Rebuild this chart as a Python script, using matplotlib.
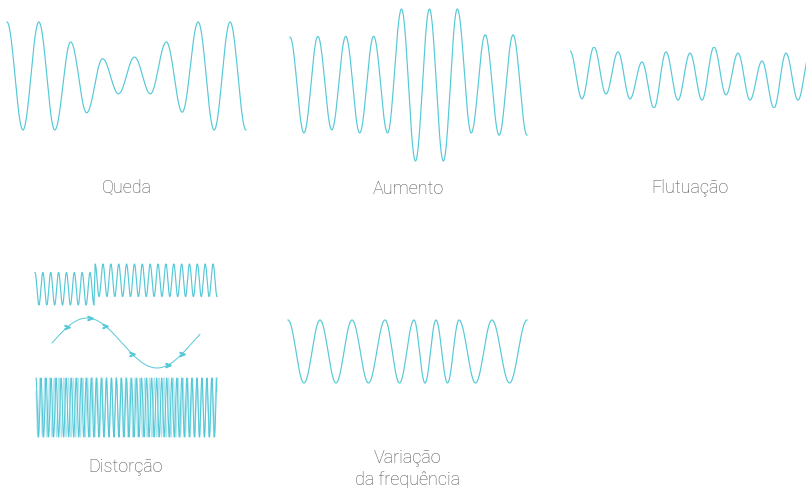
import numpy as np
import matplotlib.pyplot as plt

# extremos de cada meia-onda (1 = pico mais alto, -1 = vale mais baixo)
queda = [1.0, -1.0, 1.0, -1.0, 0.63, -0.68, 0.32, -0.33, 0.35, -0.33, 0.63, -0.67, 1.0, -1.0, 1.0, -1.0]
aumento = [0.63, -0.63, 0.64, -0.59, 0.64, -0.63, 0.64, -0.63, 1.0, -1.0, 1.0, -1.0, 1.0, -0.63, 0.66, -0.66, 0.66, -0.66]
flutuacao = [0.87, -0.70, 1.0, -0.54, 0.84, -0.70, 0.51, -1.0, 0.84, -0.74, 0.80, -0.74, 1.0, -0.57, 0.80, -0.74, 0.54, -1.0, 0.80, -0.74, 0.80]

# variação da frequência: comprimento de cada ciclo
var_periodos = [32, 32, 33, 29, 22, 23, 33, 35]

# distorção
dist_niveis = [-0.26, 0.26]      # deslocamento da onda de cima, antes e depois do salto
dist_ciclos = [7.5, 15.5]
seno_ciclos = 1.057
seno_marcas = [0.11, 0.27, 0.38, 0.57, 0.83, 0.93]
ruido_ciclos = [36, 38]

rotulos = ["Queda", "Aumento", "Flutuação", "Distorção", "Variação\nda frequência"]

cor = "#55c9d7"
cor_clara = "#aee5f0"
cor_texto = "#505050"

W, H = 806, 488
fig = plt.figure(figsize=(W / 100, H / 100), dpi=100)


def painel(x0, x1, y0, y1):
    ax = fig.add_axes([x0 / W, 1 - y1 / H, (x1 - x0) / W, (y1 - y0) / H])
    ax.set_axis_off()
    return ax


def onda(extremos, larguras=None, pts=40):
    n = len(extremos)
    if larguras is None:
        larguras = [1] * (n - 1)
    xs, ys = [], []
    pos = 0
    for i in range(n - 1):
        t = np.linspace(0, 1, pts, endpoint=False)
        a, b = extremos[i], extremos[i + 1]
        xs.append(pos + t * larguras[i])
        ys.append(a + (b - a) * (1 - np.cos(np.pi * t)) / 2)
        pos += larguras[i]
    xs.append([pos])
    ys.append([extremos[-1]])
    return np.concatenate(xs), np.concatenate(ys)


def desenha(ax, x, y, **kw):
    ax.plot(x, y, color=kw.pop("color", cor), lw=kw.pop("lw", 0.85), clip_on=False, **kw)


# Queda
ax = painel(7, 246, 22, 130)
x, y = onda(queda)
desenha(ax, x, y)
ax.set_xlim(0, len(queda) - 1)
ax.set_ylim(-1, 1)

# Aumento
ax = painel(290, 527, 9, 161)
x, y = onda(aumento)
desenha(ax, x, y)
ax.set_xlim(0, len(aumento) - 1)
ax.set_ylim(-1, 1)

# Flutuação
ax = painel(570, 810, 47, 108)
x, y = onda(flutuacao)
ax.plot(x, y, color=cor, lw=0.85)
ax.set_xlim(0, len(flutuacao) - 1)
ax.set_ylim(-1, 1)

# Variação da frequência
ext = [1.0 if i % 2 == 0 else -1.0 for i in range(2 * len(var_periodos) + 1)]
larg = [p / 2 for p in var_periodos for _ in range(2)]
ax = painel(288, 527, 320, 383)
x, y = onda(ext, larg)
desenha(ax, x, y)
ax.set_xlim(0, sum(var_periodos))
ax.set_ylim(-1, 1)

# Distorção - onda de cima com salto
ax = painel(35, 217, 264, 305)
t1 = np.linspace(0, dist_ciclos[0], 600)
t2 = np.linspace(0, dist_ciclos[1], 1200)
x = np.concatenate([t1, dist_ciclos[0] + 0.15 + t2])
y = np.concatenate([np.cos(2 * np.pi * t1) + dist_niveis[0], np.cos(2 * np.pi * t2) + dist_niveis[1]])
desenha(ax, x, y)
ax.set_xlim(0, sum(dist_ciclos) + 0.15)
ax.set_ylim(-1.26, 1.26)

# Distorção - seno com marcas
ax = painel(52, 200, 318, 368)
t = np.linspace(0, seno_ciclos, 300)
desenha(ax, t, np.sin(2 * np.pi * t), lw=0.7)
m = np.array(seno_marcas)
ax.plot(m, np.sin(2 * np.pi * m), ls="none", marker=r"$>$", ms=3.5, color=cor, clip_on=False)
ax.set_xlim(0, seno_ciclos)
ax.set_ylim(-1, 1)

# Distorção - ruído denso
ax = painel(36, 217, 378, 437)
t = np.linspace(0, 1, 4000)
desenha(ax, t, np.cos(2 * np.pi * ruido_ciclos[1] * t + 1.0), color=cor_clara, lw=0.8)
desenha(ax, t, np.cos(2 * np.pi * ruido_ciclos[0] * t), lw=0.8)
ax.set_xlim(0, 1)
ax.set_ylim(-1, 1)

# rótulos
pos_rotulos = [(127, 188), (408, 189), (690, 188), (126, 467), (408, 469)]
for txt, (px, py) in zip(rotulos, pos_rotulos):
    fig.text(px / W, 1 - py / H, txt, ha="center", va="center", fontsize=13,
             color=cor_texto, family=["Roboto", "DejaVu Sans"], fontweight="light",
             linespacing=1.3)

fig.savefig("out.png", dpi=100)
